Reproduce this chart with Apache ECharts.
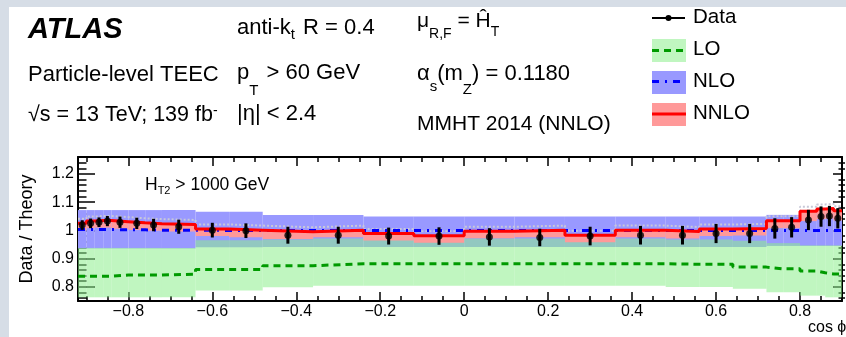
<!DOCTYPE html>
<html><head><meta charset="utf-8">
<script src="https://cdn.jsdelivr.net/npm/echarts@6/dist/echarts.min.js"></script>
<style>html,body{margin:0;padding:0;background:#d6dde6;}#c{width:846px;height:337px;}</style>
</head><body><div id="c"></div>
<script>
// ---------------- data ----------------
const binEdges = [-0.92,-0.90,-0.88,-0.86,-0.84,-0.80,-0.76,-0.72,-0.64,-0.56,-0.48,-0.36,-0.24,-0.12,0.00,0.12,0.24,0.36,0.48,0.56,0.64,0.72,0.76,0.80,0.84,0.86,0.88,0.90];
const dataValues = [1.019,1.025,1.029,1.033,1.029,1.025,1.019,1.013,1.001,0.999,0.983,0.983,0.980,0.980,0.977,0.975,0.980,0.983,0.983,0.989,0.989,1.007,1.011,1.037,1.049,1.051,1.043];
const dataErrors = [0.017,0.017,0.017,0.018,0.020,0.020,0.022,0.025,0.026,0.026,0.030,0.030,0.030,0.031,0.031,0.031,0.033,0.033,0.033,0.034,0.034,0.036,0.036,0.036,0.036,0.036,0.036];
const nnloValues = [1.025,1.033,1.035,1.035,1.031,1.027,1.024,1.021,1.005,1.001,0.995,1.001,0.989,0.981,0.997,1.001,0.983,1.001,0.996,1.005,1.007,1.034,1.034,1.068,1.076,1.078,1.070];
const nnloBandLow = [1.000,1.008,1.010,1.010,1.006,1.002,0.999,0.996,0.980,0.976,0.970,0.976,0.964,0.956,0.972,0.976,0.958,0.976,0.971,0.980,0.982,1.008,1.008,1.033,1.040,1.042,1.035];
const nnloBandHigh = [1.041,1.049,1.051,1.051,1.047,1.043,1.040,1.037,1.021,1.017,1.011,1.017,1.005,0.997,1.013,1.017,0.999,1.017,1.012,1.021,1.023,1.051,1.051,1.086,1.094,1.096,1.088];
const nloValues = [1.003,1.003,1.003,1.003,1.002,1.002,1.001,1.001,1.000,1.000,1.000,1.000,1.000,1.000,1.000,1.000,1.000,1.000,1.000,1.000,1.000,1.000,1.000,1.000,1.000,1.000,1.000];
const nloBandLow = [0.936,0.936,0.936,0.936,0.936,0.936,0.936,0.936,0.940,0.940,0.941,0.941,0.941,0.941,0.941,0.941,0.941,0.941,0.941,0.941,0.941,0.945,0.945,0.945,0.945,0.945,0.945];
const nloBandHigh = [1.072,1.072,1.072,1.072,1.072,1.072,1.072,1.072,1.066,1.066,1.055,1.055,1.049,1.049,1.049,1.049,1.049,1.049,1.049,1.049,1.049,1.055,1.055,1.062,1.062,1.062,1.062];
const loValues = [0.838,0.838,0.838,0.838,0.842,0.842,0.842,0.845,0.862,0.862,0.875,0.882,0.882,0.882,0.882,0.882,0.882,0.882,0.880,0.880,0.870,0.864,0.864,0.856,0.850,0.846,0.846];
const loBandLow = [0.763,0.763,0.763,0.763,0.763,0.763,0.763,0.763,0.787,0.787,0.799,0.804,0.804,0.804,0.804,0.804,0.804,0.804,0.800,0.800,0.793,0.781,0.781,0.769,0.769,0.763,0.763];
const loBandHigh = [0.938,0.938,0.938,0.938,0.938,0.938,0.938,0.938,0.965,0.965,0.968,0.971,0.971,0.971,0.971,0.971,0.971,0.971,0.968,0.968,0.963,0.955,0.955,0.947,0.947,0.947,0.947];
const xTickLabels = [-0.8,-0.6,-0.4,-0.2,0,0.2,0.4,0.6,0.8];
const yTickLabels = [0.8,0.9,1.0,1.1,1.2];
const xRange = [-0.92, 0.90];
const yRange = [0.75, 1.26];
// ---------------------------------------------------------------

const FONT = '"Liberation Sans", Arial, Helvetica, sans-serif';
const nBins = binEdges.length - 1;
const centers = [];
for (let i = 0; i < nBins; i++) centers.push((binEdges[i] + binEdges[i + 1]) / 2);

const xMinor = [];
for (let k = -18; k <= 18; k++) { const v = +(k * 0.05).toFixed(2); if (v > xRange[0] && v < xRange[1] && Math.abs(v * 5 - Math.round(v * 5)) > 1e-6) xMinor.push(v); }
const yMinor = [];
for (let k = 38; k <= 63; k++) { const v = +(k * 0.02).toFixed(2); if (v > yRange[0] && v < yRange[1] && Math.abs(v * 10 - Math.round(v * 10)) > 1e-6) yMinor.push(v); }

function stepData(vals) {
  const d = [];
  for (let i = 0; i < nBins; i++) d.push([binEdges[i], vals[i]]);
  d.push([binEdges[nBins], vals[nBins - 1]]);
  return d;
}
function bandSeries(name, low, high, fill, z) {
  return {
    type: 'custom', name, z, silent: true,
    data: low.map((l, i) => [binEdges[i], binEdges[i + 1], l, high[i]]),
    encode: { x: [0, 1], y: [2, 3] },
    renderItem(params, api) {
      const a = api.coord([api.value(0), api.value(3)]);
      const b = api.coord([api.value(1), api.value(2)]);
      const cs = params.coordSys;
      const shape = echarts.graphic.clipRectByRect(
        { x: a[0], y: a[1], width: b[0] - a[0], height: b[1] - a[1] },
        { x: cs.x, y: cs.y, width: cs.width, height: cs.height });
      if (!shape) return null;
      return { type: 'rect', shape, style: { fill } };
    }
  };
}
function stepSeries(name, vals, color, type, width, z) {
  return { type: 'line', name, z, step: 'end', data: stepData(vals), symbol: 'none', silent: true,
    lineStyle: { color, width, type, cap: 'butt' }, clip: true };
}

const fmtX = v => (v < 0 ? '\u2212' : '') + (v === 0 ? '0' : Math.abs(v).toFixed(1));
const fmtY = v => (Math.abs(v - 1) < 1e-9 ? '1' : v.toFixed(1));

function xAxisDef(position, values, len, showLine, showLabel) {
  return {
    type: 'value', min: xRange[0], max: xRange[1], position,
    axisLine: { show: showLine, onZero: false, lineStyle: { color: '#000', width: 2 } },
    axisTick: { show: true, inside: true, length: len, customValues: values, lineStyle: { color: '#000', width: 1.5 } },
    axisLabel: showLabel ? { show: true, customValues: values, formatter: fmtX, fontSize: 16, fontFamily: FONT, color: '#000', margin: 3 } : { show: false },
    splitLine: { show: false }
  };
}
function yAxisDef(position, values, len, showLine, showLabel, inside) {
  return {
    type: 'value', min: yRange[0], max: yRange[1], position,
    axisLine: { show: showLine, onZero: false, lineStyle: { color: '#000', width: 2 } },
    axisTick: { show: true, inside: inside, length: len, customValues: values, lineStyle: { color: '#000', width: 1.5 } },
    axisLabel: showLabel ? { show: true, customValues: values, formatter: fmtY, fontSize: 16, fontFamily: FONT, color: '#000', margin: 4 } : { show: false },
    splitLine: { show: false }
  };
}

// text layout helper (segments on a common baseline)
const mctx = document.createElement('canvas').getContext('2d');
const texts = [];
function line(x0, baseline, segs) {
  let x = x0;
  for (const s of segs) {
    const font = (s.f || '') + ' ' + s.s + 'px ' + FONT;
    mctx.font = font;
    texts.push({ type: 'text', x: x, y: baseline + (s.dy || 0) - 0.35 * s.s, z: 100,
      style: { text: s.t, font, fill: '#000', textAlign: 'left', textVerticalAlign: 'middle', align: 'left', verticalAlign: 'middle' } });
    x += mctx.measureText(s.t).width + (s.gap || 0);
  }
}
line(28, 40, [{ t: 'ATLAS', s: 29, f: 'italic bold' }]);
line(237, 36, [{ t: 'anti-k', s: 22 }, { t: 't', s: 15, dy: 4, gap: 2 }, { t: ' R = 0.4', s: 22 }]);
line(417, 29, [{ t: '\u03bc', s: 21 }, { t: 'R,F', s: 14, dy: 10 }, { t: ' = \u0124', s: 21 }, { t: 'T', s: 14, dy: 8 }]);
line(28, 83, [{ t: 'Particle-level TEEC', s: 22 }]);
line(237, 81, [{ t: 'p', s: 22 }, { t: 'T', s: 15, dy: 15, gap: 2 }, { t: ' > 60 GeV', s: 22 }]);
line(417, 82, [{ t: '\u03b1', s: 22 }, { t: 's', s: 15, dy: 10 }, { t: '(m', s: 22 }, { t: 'Z', s: 15, dy: 13 }, { t: ') = 0.1180', s: 22 }]);
line(28, 123, [{ t: '\u221as = 13 TeV; 139 fb', s: 21.5 }, { t: '-', s: 14, dy: -7 }]);
line(237, 122, [{ t: '|\u03b7| < 2.4', s: 22 }]);
line(417, 132, [{ t: 'MMHT 2014 (NNLO)', s: 21 }]);
line(693, 25, [{ t: 'Data', s: 20.5 }]);
line(693, 57, [{ t: 'LO', s: 20.5 }]);
line(693, 89, [{ t: 'NLO', s: 20.5 }]);
line(693, 121, [{ t: 'NNLO', s: 20.5 }]);
line(145, 191, [{ t: 'H', s: 17.5 }, { t: 'T2', s: 11, dy: 4 }, { t: ' > 1000 GeV', s: 17.5 }]);
line(808, 333, [{ t: 'cos \u03d5', s: 16 }]);

const legendGraphics = [
  { type: 'line', z: 90, shape: { x1: 652, y1: 18, x2: 685, y2: 18 }, style: { stroke: '#000', lineWidth: 2 } },
  { type: 'circle', z: 91, shape: { cx: 668.5, cy: 18, r: 3 }, style: { fill: '#000' } },
  { type: 'rect', z: 90, shape: { x: 652, y: 39, width: 34, height: 23 }, style: { fill: '#c0f6c0' } },
  { type: 'line', z: 91, shape: { x1: 652, y1: 50.5, x2: 686, y2: 50.5 }, style: { stroke: '#009a00', lineWidth: 3, lineDash: [7, 5] } },
  { type: 'rect', z: 90, shape: { x: 652, y: 71, width: 34, height: 23 }, style: { fill: '#9999ff' } },
  { type: 'line', z: 91, shape: { x1: 652, y1: 81.5, x2: 686, y2: 81.5 }, style: { stroke: '#0000ff', lineWidth: 3, lineDash: [7, 6, 2, 6] } },
  { type: 'rect', z: 90, shape: { x: 652, y: 103, width: 34, height: 23 }, style: { fill: '#ff9999' } },
  { type: 'line', z: 91, shape: { x1: 652, y1: 114, x2: 686, y2: 114 }, style: { stroke: '#ff0000', lineWidth: 3 } }
];

const chart = echarts.init(document.getElementById('c'), null, { renderer: 'canvas' });
chart.setOption({
  animation: false,
  backgroundColor: '#d6dde6',
  grid: { left: 78, right: 4, top: 157, bottom: 36, containLabel: false },
  xAxis: [
    xAxisDef('bottom', xTickLabels, 9, true, true),
    xAxisDef('bottom', xMinor, 5, false, false),
    xAxisDef('top', xTickLabels, 9, true, false),
    xAxisDef('top', xMinor, 5, false, false)
  ],
  yAxis: [
    yAxisDef('left', yTickLabels, 17, true, true, true),
    yAxisDef('left', yMinor, 8.5, false, false, true),
    yAxisDef('right', yTickLabels, 9, true, false, true),
    yAxisDef('right', yMinor, 3.5, false, false, true),
    yAxisDef('right', yMinor, 3, false, false, false)
  ],
  graphic: [
    { type: 'rect', z: -10, silent: true, shape: { x: 9, y: 7, width: 837, height: 330 }, style: { fill: '#ffffff' } },
    { type: 'text', x: 27, y: 229, rotation: Math.PI / 2, z: 100,
      style: { text: 'Data / Theory', font: '18px ' + FONT, fill: '#000', textAlign: 'center', textVerticalAlign: 'middle', align: 'center', verticalAlign: 'middle' } },
    ...texts,
    ...legendGraphics
  ],
  series: [
    bandSeries('NLO band', nloBandLow, nloBandHigh, '#9999ff', 1),
    bandSeries('LO band', loBandLow, loBandHigh, 'rgba(140,238,140,0.55)', 2),
    bandSeries('NNLO band', nnloBandLow, nnloValues, '#ff9999', 3),
    stepSeries('NNLO upper', nnloBandHigh.map((v, i) => nnloValues[i] + 0.016), '#c8c8d8', 'dotted', 2, 4),
    stepSeries('LO', loValues, '#009a00', [7, 5], 3, 5),
    stepSeries('NLO', nloValues, '#0000ff', [7, 6, 2, 6], 3, 5),
    stepSeries('NNLO', nnloValues, '#ff0000', 'solid', 3, 6),
    {
      type: 'custom', name: 'Data errors', z: 7, silent: true,
      data: centers.map((c, i) => [c, dataValues[i] - dataErrors[i], dataValues[i] + dataErrors[i]]),
      encode: { x: 0, y: [1, 2] },
      renderItem(params, api) {
        const a = api.coord([api.value(0), api.value(1)]);
        const b = api.coord([api.value(0), api.value(2)]);
        return { type: 'line', shape: { x1: a[0], y1: a[1], x2: b[0], y2: b[1] }, style: { stroke: '#000', lineWidth: 3 } };
      }
    },
    { type: 'scatter', name: 'Data', z: 8, silent: true, data: centers.map((c, i) => [c, dataValues[i]]),
      symbol: 'circle', symbolSize: 7, itemStyle: { color: '#000' } }
  ]
});
</script></body></html>
